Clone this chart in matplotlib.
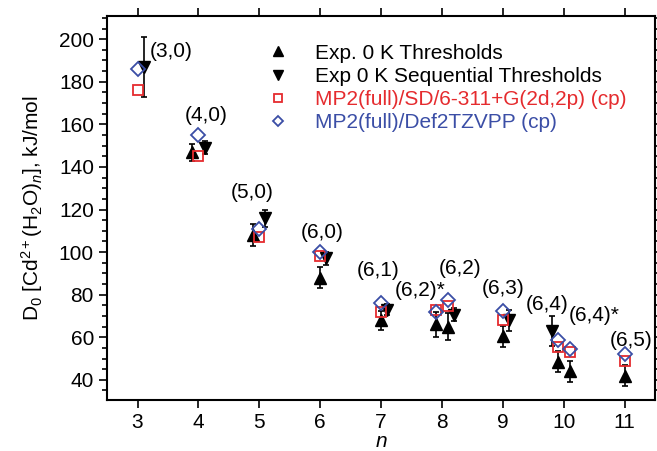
import matplotlib
matplotlib.use("Agg")
import matplotlib.pyplot as plt
from matplotlib.ticker import MultipleLocator

# Exp. 0 K thresholds (up triangles)
exp_n = [3.9, 4.9, 6.0, 7.0, 7.9, 8.1, 9.0, 9.9, 10.1, 11.0]
exp_d = [147, 108, 88, 68, 66, 65, 60.5, 48.5, 44, 42]
exp_err = [4, 5, 5, 4.5, 6, 6.5, 5, 5, 5, 5]

# Exp 0 K sequential thresholds (down triangles)
seq_n = [3.1, 4.1, 5.1, 6.1, 7.1, 8.2, 9.1, 9.8]
seq_d = [187, 149, 116, 97, 73, 70.5, 68, 63]
seq_err = [14, 3, 4, 3, 2.5, 3, 5, 7]

# theory
th_n = [3, 4, 5, 6, 7, 7.9, 8.1, 9, 9.9, 10.1, 11]
sd_d = [176, 145, 107, 98, 72, 73, 74.5, 68, 55.5, 53, 49]
tz_d = [186, 155, 111, 100, 76, 72, 77.5, 72.5, 58.5, 54.5, 52]

labels = ["(3,0)", "(4,0)", "(5,0)", "(6,0)", "(6,1)", "(6,2)*", "(6,2)",
          "(6,3)", "(6,4)", "(6,4)*", "(6,5)"]
label_x = [3.55, 4.13, 4.88, 6.03, 6.95, 7.64, 8.3, 9.0, 9.73, 10.5, 11.1]
label_y = [194, 164, 128, 109, 91.5, 82, 92.5, 83, 75.5, 70, 58.5]

red = "#e52b2e"
blue = "#3b4ea6"

plt.rcParams["font.family"] = "Liberation Sans"
plt.rcParams["font.size"] = 15
plt.rcParams["mathtext.fontset"] = "custom"
plt.rcParams["mathtext.rm"] = "Liberation Sans"
plt.rcParams["mathtext.it"] = "Liberation Sans:italic"

fig = plt.figure(figsize=(6.57, 4.51), dpi=100)
ax = fig.add_axes([0.163, 0.113, 0.834, 0.852])

ax.errorbar(exp_n, exp_d, yerr=exp_err, fmt="none", ecolor="black",
            elinewidth=1.2, capsize=2.5, capthick=1.2)
ax.errorbar(seq_n, seq_d, yerr=seq_err, fmt="none", ecolor="black",
            elinewidth=1.2, capsize=2.5, capthick=1.2)

ax.plot(exp_n, exp_d, "^", color="black", ms=9, ls="none",
        label="Exp. 0 K Thresholds")
ax.plot(seq_n, seq_d, "v", color="black", ms=9, ls="none",
        label="Exp 0 K Sequential Thresholds")
ax.plot(th_n, sd_d, "s", color=red, mfc="none", mew=1.3, ms=7.5, ls="none",
        label="MP2(full)/SD/6-311+G(2d,2p) (cp)")
ax.plot(th_n, tz_d, "D", color=blue, mfc="none", mew=1.3, ms=7, ls="none",
        label="MP2(full)/Def2TZVPP (cp)")

for t, x, y in zip(labels, label_x, label_y):
    ax.text(x, y, t, ha="center", va="center", fontsize=15)

ax.set_xlim(2.5, 11.5)
ax.set_ylim(30.5, 211)
ax.xaxis.set_major_locator(MultipleLocator(1))
ax.yaxis.set_major_locator(MultipleLocator(20))
ax.yaxis.set_minor_locator(MultipleLocator(5))
ax.tick_params(which="both", direction="out", top=True, right=True, width=1.2)
ax.tick_params(which="major", length=6, labelsize=15)
ax.tick_params(which="minor", length=3.5)
for s in ax.spines.values():
    s.set_linewidth(1.5)

ax.set_xlabel("$n$", fontsize=15, labelpad=0)
ax.set_ylabel(r"D$_0$ [Cd$^{2+}$(H$_2$O)$_n$], kJ/mol", fontsize=15, labelpad=10)

leg = ax.legend(loc="upper left", bbox_to_anchor=(0.269, 0.949), frameon=False,
                handletextpad=1.0, labelspacing=0.2, borderaxespad=0,
                fontsize=15, handlelength=1.5, markerscale=0.8)
for txt, c in zip(leg.get_texts(), ["black", "black", red, blue]):
    txt.set_color(c)

fig.savefig("out.png", dpi=100)
